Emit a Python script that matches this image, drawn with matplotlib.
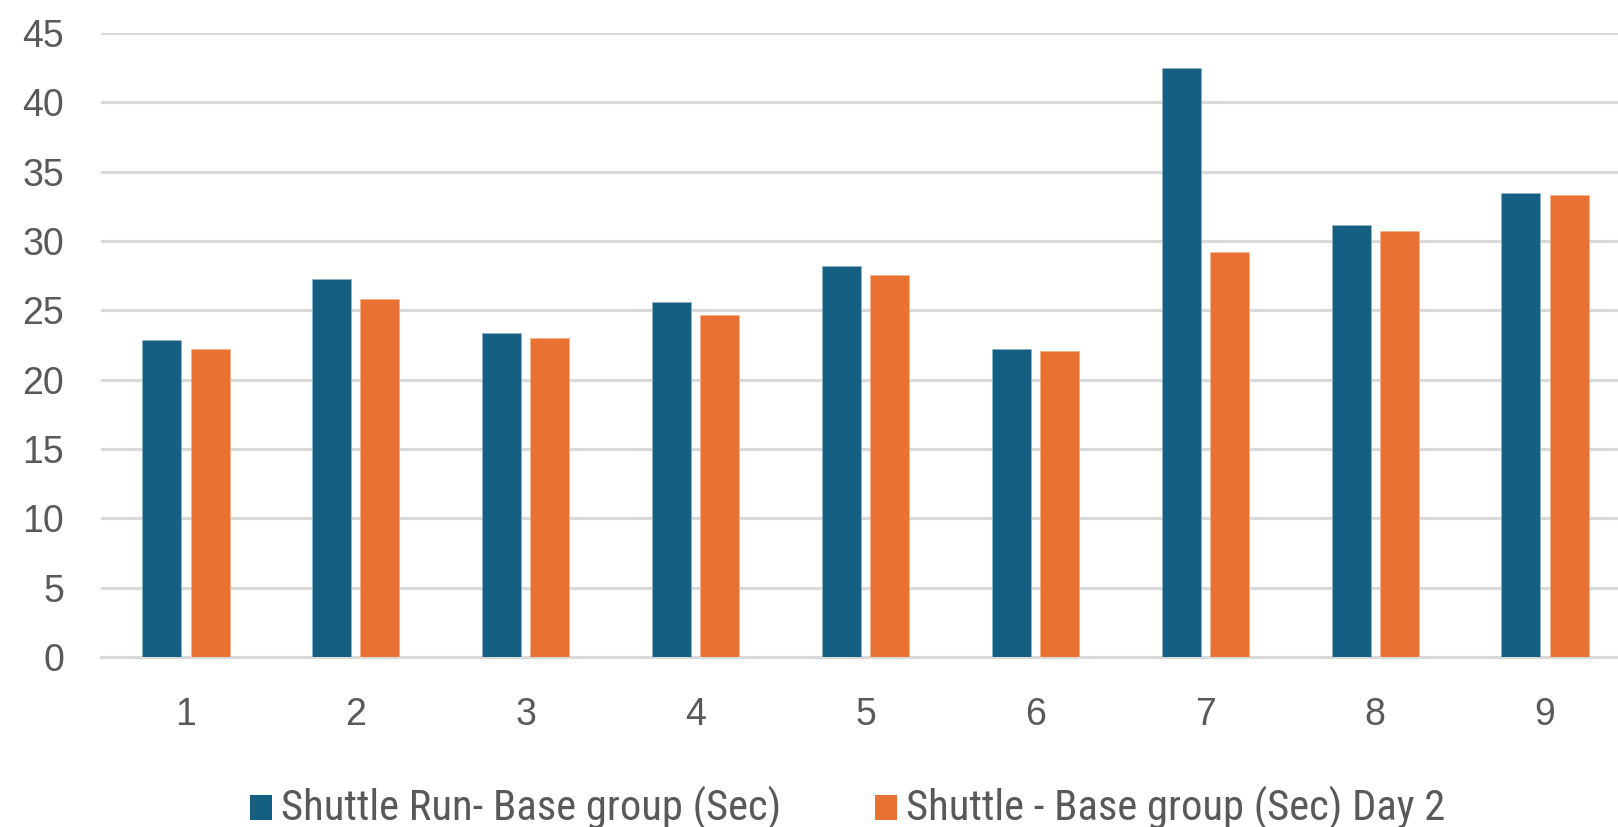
import matplotlib
matplotlib.use("Agg")
import matplotlib.pyplot as plt
from matplotlib import font_manager as fm
from matplotlib.patches import Rectangle
import numpy as np

categories = ["1", "2", "3", "4", "5", "6", "7", "8", "9"]
shuttle_run_base = [22.85, 27.25, 23.35, 25.6, 28.2, 22.2, 42.5, 31.15, 33.45]
shuttle_base_day2 = [22.2, 25.8, 23.0, 24.65, 27.55, 22.05, 29.2, 30.7, 33.3]
series_labels = ["Shuttle Run- Base group (Sec)", "Shuttle - Base group (Sec) Day 2"]
y_ticks = [0, 5, 10, 15, 20, 25, 30, 35, 40, 45]

BLUE = "#156082"
ORANGE = "#E97132"
GRID = "#D9D9D9"
TEXT = "#595959"

W, H = 1618, 827

# narrow sans for the legend, picked from whatever is installed
installed = {f.name for f in fm.fontManager.ttflist}
narrow_choices = ["Roboto Condensed", "IBM Plex Sans Condensed", "Fira Sans Condensed",
                  "Open Sans Condensed", "Archivo Narrow", "PT Sans Narrow",
                  "Liberation Sans Narrow", "Encode Sans Condensed", "Barlow Semi Condensed"]
legend_font = next((n for n in narrow_choices if n in installed), "Liberation Sans")

fig = plt.figure(figsize=(W / 100, H / 100), dpi=100)
ax = fig.add_axes([101 / W, 170 / H, 1529 / W, 624 / H])

x = np.arange(1, len(categories) + 1)
w = 0.23
off = 0.142
ax.bar(x - off, shuttle_run_base, width=w, color=BLUE, edgecolor="#8fb3c6", linewidth=0.5, zorder=3)
ax.bar(x + off, shuttle_base_day2, width=w, color=ORANGE, edgecolor="#f3b08c", linewidth=0.5, zorder=3)

ax.set_xlim(0.5, len(categories) + 0.5)
ax.set_ylim(0, 45)
ax.set_yticks(y_ticks)
ax.set_xticks(x)
ax.set_xticklabels(categories)
ax.yaxis.grid(True, color=GRID, linewidth=2.2, zorder=0)
ax.set_axisbelow(True)
for s in ["top", "right", "left"]:
    ax.spines[s].set_visible(False)
ax.spines["bottom"].set_color(GRID)
ax.spines["bottom"].set_linewidth(2.2)
ax.tick_params(axis="both", length=0, labelsize=27, labelcolor=TEXT,
               labelfontfamily="Liberation Sans")
ax.tick_params(axis="x", pad=28.5)
ax.tick_params(axis="y", pad=26.5)

# legend: square swatch followed by its label
legend_y = 808
swatch_x = [250, 875]
colors = [BLUE, ORANGE]
renderer = fig.canvas.get_renderer()
probe = fig.text(0, 0, series_labels[0], fontsize=20, family=legend_font)
probe_w = probe.get_window_extent(renderer).width
probe.remove()
legend_size = 20 * 500 / probe_w
for sx, c, lab in zip(swatch_x, colors, series_labels):
    fig.add_artist(Rectangle((sx / W, (H - legend_y - 12) / H), 22 / W, 25 / H,
                             transform=fig.transFigure, facecolor=c, edgecolor="none"))
    fig.text((sx + 31) / W, (H - legend_y) / H, lab, fontsize=legend_size,
             family=legend_font, color=TEXT, va="center", ha="left")

fig.savefig("out.png", dpi=100, facecolor="white")
